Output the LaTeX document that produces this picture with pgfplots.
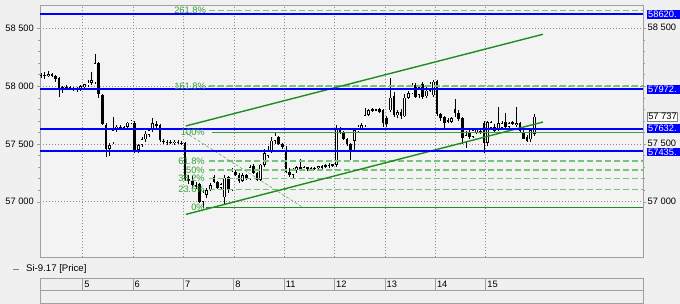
\documentclass[border=0pt]{standalone}
\usepackage{pgfplots}
\pgfplotsset{compat=1.18}
\usepackage{pgfplotstable}
\usepackage{fontspec}
\setmainfont{Liberation Sans}
\definecolor{bg}{RGB}{240,240,240}
\definecolor{plotbg}{RGB}{243,243,243}
\definecolor{frame}{RGB}{160,160,160}
\definecolor{gridc}{RGB}{140,140,140}
\definecolor{lvlblue}{RGB}{0,0,255}
\definecolor{fibg}{RGB}{30,140,30}
\definecolor{fibdash}{RGB}{120,195,120}
\definecolor{fibtext}{RGB}{50,160,50}
\newcommand{\lf}{\fontsize{9.3bp}{10bp}\selectfont}
\tikzset{bluebox/.style={anchor=west, font=\lf, fill=lvlblue, text=white, inner xsep=1bp, inner ysep=0pt, minimum height=8.6bp, text width=31bp, align=left, xshift=4bp}}

\pgfplotstableread{
x o h l c
-12 58095 58115 58070 58100
-11 58100 58120 58060 58090
-10 58090 58130 58075 58105
-9 58105 58115 58080 58085
-8 58085 58100 58040 58060
-7 58075 58080 57910 57985
-6 57985 58000 57940 57990
-5 57990 58010 57965 57985
-4 57985 58000 57970 57990
-3 57985 57995 57955 57970
-2 57965 57990 57945 57980
-1 57975 58010 57960 58000
0 57990 58020 57970 58015
1 58010 58050 57990 58030
2 58030 58120 58010 58050
3 58035 58278 58020 58200
4 58200 58210 57900 57930
5 57920 57930 57660 57670
6 57660 57680 57387 57460
7 57460 57510 57400 57490
8 57515 57730 57500 57620
9 57620 57660 57600 57650
10 57650 57665 57630 57645
11 57645 57660 57635 57650
12 57650 57690 57640 57685
13 57680 57710 57670 57700
14 57680 57700 57420 57450
15 57450 57500 57420 57490
16 57490 57560 57470 57540
17 57540 57610 57520 57590
18 57580 57640 57560 57620
19 57620 57720 57600 57680
20 57670 57700 57640 57660
21 57660 57670 57520 57535
22 57530 57540 57500 57515
23 57510 57530 57495 57515
24 57515 57530 57500 57510
25 57505 57530 57495 57520
26 57515 57535 57500 57510
27 57510 57530 57490 57500
28 57510 57515 57180 57200
29 57200 57230 57150 57175
30 57180 57220 57120 57140
31 57140 57170 57110 57130
32 57150 57160 56990 57000
33 57000 57100 56950 57080
34 57060 57120 57030 57100
35 57100 57160 57090 57145
36 57210 57230 57160 57170
37 57170 57180 57110 57120
38 57120 57160 57100 57150
39 57040 57230 56980 57210
40 57210 57220 57080 57100
41 57100 57290 57090 57260
42 57260 57270 57220 57230
43 57230 57250 57160 57180
44 57180 57250 57170 57230
45 57230 57240 57190 57200
46 57200 57320 57190 57300
47 57310 57330 57240 57250
48 57250 57260 57180 57190
49 57190 57330 57180 57320
50 57320 57460 57300 57420
51 57400 57480 57380 57440
52 57440 57560 57420 57530
53 57530 57594 57500 57570
54 57560 57570 57490 57500
55 57500 57510 57460 57470
56 57440 57480 57250 57260
57 57260 57290 57210 57230
58 57230 57290 57200 57275
59 57270 57310 57250 57300
60 57295 57370 57280 57290
61 57280 57310 57270 57300
62 57290 57305 57270 57295
63 57290 57300 57270 57285
64 57288 57300 57275 57290
65 57290 57310 57280 57305
66 57300 57320 57285 57310
67 57305 57325 57290 57315
68 57310 57335 57290 57320
69 57315 57330 57300 57325
70 57320 57660 57300 57637
71 57640 57650 57590 57600
72 57600 57610 57530 57540
73 57540 57550 57480 57500
74 57500 57510 57361 57430
75 57530 57630 57440 57620
76 57610 57660 57600 57650
77 57640 57680 57620 57660
78 57660 57810 57650 57750
79 57750 57800 57740 57790
80 57795 57810 57780 57800
81 57795 57805 57785 57795
82 57800 57810 57770 57775
83 57790 57800 57650 57680
84 57720 57740 57650 57670
85 57790 58070 57780 57900
86 57910 57950 57730 57750
87 57750 57790 57720 57775
88 57780 57800 57720 57740
89 57740 57930 57730 57900
90 57900 57960 57890 57940
91 57940 58030 57930 58010
92 58010 58030 57900 57910
93 57925 58000 57900 57990
94 58020 58040 57890 57910
95 57910 57990 57900 57960
96 57960 58040 57950 58020
97 57920 58050 57910 58040
98 58040 58050 57740 57760
99 57760 57770 57700 57720
100 57730 57740 57620 57680
101 57700 57720 57680 57700
102 57690 57730 57680 57725
103 57800 57888 57730 57770
104 57770 57790 57700 57720
105 57720 57730 57500 57551
106 57520 57610 57464 57577
107 57600 57620 57540 57560
108 57560 57640 57550 57620
109 57600 57640 57590 57630
110 57615 57625 57590 57605
111 57680 57700 57421 57508
112 57510 57700 57480 57690
113 57640 57700 57620 57690
114 57650 57670 57600 57610
115 57620 57820 57610 57680
116 57640 57700 57620 57680
117 57690 57770 57640 57650
118 57650 57690 57640 57680
119 57680 57700 57660 57685
120 57660 57820 57650 57680
121 57680 57690 57600 57610
122 57600 57620 57560 57540
123 57560 57580 57520 57530
124 57540 57640 57520 57620
125 57590 57760 57570 57737
}\candles

\begin{document}
\begin{tikzpicture}
\useasboundingbox (0,0) rectangle (680bp,304bp);
\fill[bg] (0,0) rectangle (680bp,304bp);
\begin{axis}[
  at={(40.3bp,46.5bp)}, anchor=south west,
  width=602.7bp, height=252bp, scale only axis,
  xmin=-12.25, xmax=155.2, ymin=56517, ymax=58697,
  clip=false,
  scaled y ticks=false, scaled x ticks=false,
  axis background/.style={fill=plotbg},
  axis line style={frame},
  xtick=\empty,
  ytick={57000,57500,58000,58500},
  yticklabels={57 000,57 500,58 000,58 500},
  minor y tick num=4, ymajorgrids,
  ytick pos=both, yticklabel pos=left,
  tick align=outside, major tick length=3bp, minor tick length=2bp,
  y tick style={frame},
  grid style={gridc, dash pattern=on 1bp off 2bp, line width=0.5bp},
  yticklabel style={font=\lf},
]
% vertical day grid
\pgfplotsinvokeforeach{-0.5,13.5,27.5,41.5,55.5,69.5,83.5,97.5,111.5}{
  \addplot[gridc, dash pattern=on 1bp off 2bp, line width=0.5bp, forget plot] coordinates {(#1,56517) (#1,58697)};
}
% wicks
\addplot[draw=none, mark=none, forget plot,
  error bars/.cd, y dir=both, y explicit, error mark=none,
  error bar style={draw=black, line width=0.6bp}]
  table[x=x, y expr=(\thisrow{h}+\thisrow{l})/2, y error expr=(\thisrow{h}-\thisrow{l})/2] {\candles};
% bodies
\addplot[draw=none, mark=none, forget plot,
  error bars/.cd, y dir=both, y explicit, error mark=none,
  error bar style={draw=black, line width=2.6bp}]
  table[x=x, y expr=(\thisrow{o}+\thisrow{c})/2, y error expr={max(abs(\thisrow{c}-\thisrow{o})/2,4)}] {\candles};
% hollow up bodies
\addplot[draw=none, mark=none, forget plot,
  restrict expr to domain={\thisrow{c}-\thisrow{o}}{12:100000},
  error bars/.cd, y dir=both, y explicit, error mark=none,
  error bar style={draw=white, line width=1.4bp}]
  table[x=x, y expr=(\thisrow{o}+\thisrow{c})/2, y error expr={(\thisrow{c}-\thisrow{o})/2-5.2}] {\candles};

% fibonacci levels
\addplot[fibdash, line width=1.4bp, dash pattern=on 6bp off 3bp, forget plot] coordinates {(34.5,58651.7) (155.2,58651.7)};
\addplot[fibdash, line width=1.4bp, dash pattern=on 6bp off 3bp, forget plot] coordinates {(34.5,58001.7) (155.2,58001.7)};
\addplot[fibdash, line width=1.4bp, dash pattern=on 6bp off 3bp, forget plot] coordinates {(34.5,57351.7) (155.2,57351.7)};
\addplot[fibdash, line width=1.4bp, dash pattern=on 6bp off 3bp, forget plot] coordinates {(34.5,57275) (155.2,57275)};
\addplot[fibdash, line width=1.4bp, dash pattern=on 6bp off 3bp, forget plot] coordinates {(34.5,57198.3) (155.2,57198.3)};
\addplot[fibdash, line width=1.4bp, dash pattern=on 6bp off 3bp, forget plot] coordinates {(34.5,57103.4) (155.2,57103.4)};
\addplot[fibg!85!white, line width=1.4bp, forget plot] coordinates {(35.4,57600) (155.2,57600)};
\addplot[fibg, line width=1.4bp, forget plot] coordinates {(33.8,56950) (155.2,56950)};
\addplot[fibg!70!white, line width=0.6bp, dash pattern=on 3bp off 2bp, forget plot] coordinates {(28,57600) (60.7,56950)};
% channel
\addplot[fibg, line width=1.4bp, forget plot] coordinates {(28.2,57655) (127.4,58448)};
\addplot[fibg, line width=1.4bp, forget plot] coordinates {(28.2,56890) (127.4,57689)};
% blue levels
\addplot[draw=lvlblue, line width=2bp, forget plot] coordinates {(-12.25,58620) (155.2,58620)};
\addplot[draw=lvlblue, line width=2bp, forget plot] coordinates {(-12.25,57972) (155.2,57972)};
\addplot[draw=lvlblue, line width=2bp, forget plot] coordinates {(-12.25,57632) (155.2,57632)};
\addplot[draw=lvlblue, line width=2bp, forget plot] coordinates {(-12.25,57435) (155.2,57435)};

% fib labels
\node[anchor=east, text=fibtext, font=\lf, inner sep=0pt] at (axis cs:33.8,58651.7) {261.8\%};
\node[anchor=east, text=fibtext, font=\lf, inner sep=0pt] at (axis cs:33.8,58001.7) {161.8\%};
\node[anchor=east, text=fibtext, font=\lf, inner sep=0pt] at (axis cs:33.5,57600) {100\%};
\node[anchor=east, text=fibtext, font=\lf, inner sep=0pt] at (axis cs:33.5,57351.7) {61.8\%};
\node[anchor=east, text=fibtext, font=\lf, inner sep=0pt] at (axis cs:33.5,57275) {50\%};
\node[anchor=east, text=fibtext, font=\lf, inner sep=0pt] at (axis cs:33.5,57198.3) {38.2\%};
\node[anchor=east, text=fibtext, font=\lf, inner sep=0pt] at (axis cs:33.5,57103.4) {23.6\%};
\node[anchor=east, text=fibtext, font=\lf, inner sep=0pt] at (axis cs:33.5,56950) {0\%};

% right side labels
\node[anchor=west, font=\lf, inner sep=0pt, xshift=4.5bp, yshift=0.8bp] at (axis cs:155.2,58500) {58 500};
\node[anchor=west, font=\lf, inner sep=0pt, xshift=4.5bp, yshift=0.8bp] at (axis cs:155.2,57500) {57 500};
\node[anchor=west, font=\lf, inner sep=0pt, xshift=4.5bp] at (axis cs:155.2,57000) {57 000};
\node[bluebox] at (axis cs:155.2,58620) {58620.};
\node[bluebox] at (axis cs:155.2,57972) {57972.};
\node[bluebox] at (axis cs:155.2,57632) {57632.};
\node[bluebox, yshift=-0.6bp] at (axis cs:155.2,57435) {57435.};
\node[anchor=west, font=\lf, fill=white, draw=gray, line width=0.5bp, inner xsep=1bp, inner ysep=0pt, minimum height=9bp, xshift=4bp] at (axis cs:155.2,57737) {57 737};
\end{axis}

% legend
\draw[gray, line width=0.8bp] (13bp,35bp) -- (19bp,35bp);
\node[anchor=west, inner sep=0pt, font=\fontsize{9.6bp}{10bp}\selectfont] at (26bp,35bp) {Si-9.17 [Price]};

% date strip
\begin{axis}[
  at={(40.3bp,1bp)}, anchor=south west,
  width=602.7bp, height=25.3bp, scale only axis,
  xmin=-12.25, xmax=155.2, ymin=0, ymax=2,
  clip=false,
  scaled y ticks=false, scaled x ticks=false,
  axis line style={frame},
  ytick=\empty, xtick=\empty,
]
\addplot[frame, line width=0.6bp, forget plot] coordinates {(-12.25,1) (155.2,1)};
\pgfplotsinvokeforeach{-0.5,13.5,27.5,41.5,55.5,69.5,83.5,97.5,111.5}{
  \addplot[frame, line width=0.6bp, forget plot] coordinates {(#1,1) (#1,2)};
}
\node[anchor=west, font=\lf, inner sep=0pt, xshift=1.5bp] at (axis cs:-0.5,1.5) {5};
\node[anchor=west, font=\lf, inner sep=0pt, xshift=1.5bp] at (axis cs:13.5,1.5) {6};
\node[anchor=west, font=\lf, inner sep=0pt, xshift=1.5bp] at (axis cs:27.5,1.5) {7};
\node[anchor=west, font=\lf, inner sep=0pt, xshift=1.5bp] at (axis cs:41.5,1.5) {8};
\node[anchor=west, font=\lf, inner sep=0pt, xshift=1.5bp] at (axis cs:55.5,1.5) {11};
\node[anchor=west, font=\lf, inner sep=0pt, xshift=1.5bp] at (axis cs:69.5,1.5) {12};
\node[anchor=west, font=\lf, inner sep=0pt, xshift=1.5bp] at (axis cs:83.5,1.5) {13};
\node[anchor=west, font=\lf, inner sep=0pt, xshift=1.5bp] at (axis cs:97.5,1.5) {14};
\node[anchor=west, font=\lf, inner sep=0pt, xshift=1.5bp] at (axis cs:111.5,1.5) {15};
\end{axis}
\end{tikzpicture}
\end{document}
